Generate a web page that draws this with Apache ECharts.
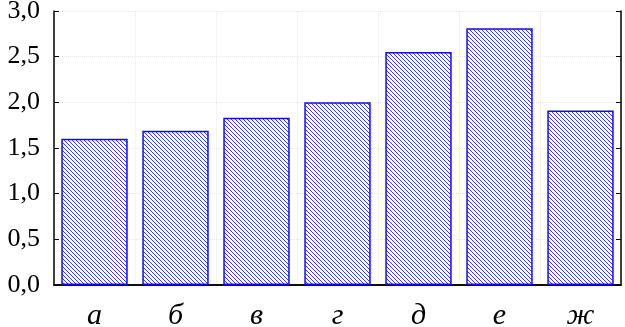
<!DOCTYPE html>
<html>
<head>
<meta charset="utf-8">
<script src="https://cdn.jsdelivr.net/npm/echarts@6/dist/echarts.min.js"></script>
<style>
  html, body { margin: 0; padding: 0; background: #fff; }
  #chart { width: 625px; height: 327px; }
</style>
</head>
<body>
<div id="chart"></div>
<script>
const categories = ['а', 'б', 'в', 'г', 'д', 'е', 'ж'];
const values = [1.60, 1.69, 1.83, 2.00, 2.55, 2.81, 1.91];
const yTicks = [0, 0.5, 1.0, 1.5, 2.0, 2.5, 3.0];

// hatch fill: diagonal blue lines
function hatch() {
  const c = document.createElement('canvas');
  c.width = 4; c.height = 4;
  const g = c.getContext('2d');
  g.fillStyle = '#ffffff';
  g.fillRect(0, 0, 4, 4);
  g.strokeStyle = '#3a3ae8';
  g.lineWidth = 1;
  g.beginPath();
  g.moveTo(-1, -1); g.lineTo(5, 5);
  g.moveTo(-1, 3); g.lineTo(1, 5);
  g.moveTo(3, -1); g.lineTo(5, 1);
  g.stroke();
  return c;
}

const chart = echarts.init(document.getElementById('chart'));
const fmt = v => v.toFixed(1).replace('.', ',');
const gridLine = { show: true, lineStyle: { color: '#e8e8e8', type: 'dotted', width: 1 } };
const serif = 'Liberation Serif, Times New Roman, serif';

const options = {
  animation: false,
  grid: { left: 54, right: 4, top: 11, bottom: 42, outerBoundsMode: 'none', containLabel: false },
  xAxis: [
    {
      type: 'category',
      data: categories,
      position: 'bottom',
      axisLine: { lineStyle: { color: '#000', width: 1.5 } },
      axisTick: { inside: true, length: 5, lineStyle: { color: '#000' } },
      axisLabel: { fontFamily: serif, fontStyle: 'italic', fontSize: 30, color: '#000', margin: 16 },
      splitLine: gridLine
    },
    {
      type: 'category',
      data: categories,
      position: 'top',
      axisLine: { lineStyle: { color: '#000', width: 1.5 } },
      axisTick: { inside: true, length: 5, lineStyle: { color: '#000' } },
      axisLabel: { show: false }
    }
  ],
  yAxis: [
    {
      type: 'value',
      min: yTicks[0],
      max: yTicks[yTicks.length - 1],
      interval: 0.5,
      position: 'left',
      axisLine: { show: true, lineStyle: { color: '#000', width: 1.5 } },
      axisTick: { show: true, inside: true, length: 5, lineStyle: { color: '#000' } },
      axisLabel: { formatter: fmt, fontFamily: serif, fontSize: 26, color: '#000', margin: 14 },
      splitLine: gridLine
    },
    {
      type: 'value',
      min: yTicks[0],
      max: yTicks[yTicks.length - 1],
      interval: 0.5,
      position: 'right',
      axisLine: { show: true, lineStyle: { color: '#000', width: 1.5 } },
      axisTick: { show: true, inside: true, length: 5, lineStyle: { color: '#000' } },
      axisLabel: { show: false },
      splitLine: { show: false }
    }
  ],
  series: [
    {
      type: 'bar',
      data: values,
      barCategoryGap: '18%',
      itemStyle: {
        color: { image: hatch(), repeat: 'repeat' },
        borderColor: '#1010e0',
        borderWidth: 1.5
      }
    }
  ]
};
chart.setOption(options);
</script>
</body>
</html>
